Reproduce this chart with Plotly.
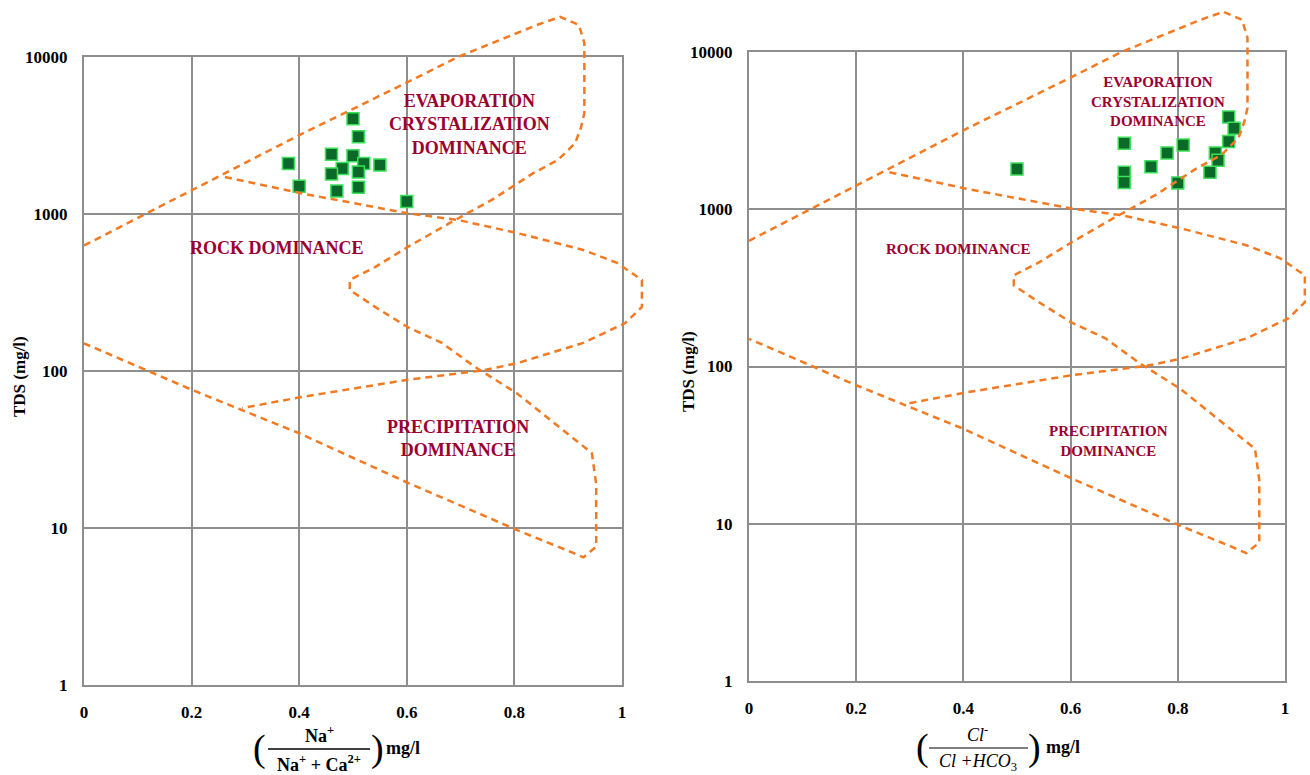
import math
import plotly.graph_objects as go

# ---------------- data ----------------
# Gibbs boundary curves (shared by both panels)
curve_a_x = [0.0, 0.2, 0.401, 0.602, 0.695, 0.842, 0.885, 0.92, 0.93, 0.93, 0.924, 0.913, 0.881,
             0.835, 0.758, 0.68, 0.602, 0.541, 0.494, 0.494, 0.541, 0.602, 0.665, 0.727, 0.805,
             0.866, 0.944, 0.952, 0.952, 0.928, 0.898, 0.805, 0.602, 0.401, 0.2, 0.0]
curve_a_y = [630, 1420, 3190, 6930, 10000, 16000, 18000, 16000, 12300, 4400, 3580, 2830, 2210,
             1820, 1230, 877, 617, 459, 380, 328, 256, 190, 151, 106, 72,
             49, 30, 19, 7.6, 6.5, 7.2, 9.7, 19.4, 40, 76, 150]
curve_b_x = [0.262, 0.401, 0.602, 0.695, 0.805, 0.928, 0.991, 1.037, 1.037, 1.006, 0.928, 0.805,
             0.742, 0.602, 0.401, 0.294]
curve_b_y = [1720, 1360, 1010, 916, 757, 590, 488, 380, 256, 202, 151, 112, 101, 88, 68, 58]

# samples, left panel: Na/(Na+Ca)
na_ratio = [0.50, 0.51, 0.38, 0.46, 0.50, 0.55, 0.52, 0.48, 0.46, 0.51, 0.40, 0.47, 0.51, 0.60]
tds_left = [4050, 3100, 2100, 2400, 2350, 2050, 2100, 1950, 1800, 1850, 1500, 1400, 1480, 1200]

# samples, right panel: Cl/(Cl+HCO3)
cl_ratio = [0.50, 0.70, 0.70, 0.70, 0.75, 0.78, 0.81, 0.80, 0.86, 0.87, 0.875, 0.895, 0.895, 0.905]
tds_right = [1800, 2630, 1720, 1480, 1860, 2280, 2560, 1470, 1720, 2280, 2050, 2700, 3860, 3280]

x_ticks = [0, 0.2, 0.4, 0.6, 0.8, 1]
x_ticktext = ["0", "0.2", "0.4", "0.6", "0.8", "1"]
y_ticks = [1, 10, 100, 1000, 10000]
y_ticktext = ["1", "10", "100", "1000", "10000"]

region_labels = ["EVAPORATION<br>CRYSTALIZATION<br>DOMINANCE", "ROCK DOMINANCE",
                 "PRECIPITATION<br>DOMINANCE"]
left_label_pos = [(0.717, 3690), (0.359, 607), (0.695, 37.4)]
right_label_pos = [(0.763, 4810), (0.39, 556), (0.67, 33.8)]

# ---------------- layout geometry (pixels) ----------------
W, H = 1310, 775
panels = {
    "L": dict(x0=84, x1=622, ybot=685, ytop=57, xr=1.08, yr=4.35),
    "R": dict(x0=749, x1=1285, ybot=681, ytop=52, xr=1.045, yr=4.3),
}

def xd(px):
    return px / W

def yd(py):
    return 1 - py / H

SERIF = "Liberation Serif"
ORANGE = "#F27A22"
LABEL_RED = "#9A0030"
GRID = "#8E8E8E"

fig = go.Figure()

axis_ids = {"L": ("x", "y", "x3", "y3"), "R": ("x2", "y2", "x4", "y4")}
data = {"L": (na_ratio, tds_left), "R": (cl_ratio, tds_right)}

for key in ["L", "R"]:
    main_x, main_y, ov_x, ov_y = axis_ids[key]
    xs, ys = data[key]
    fig.add_trace(go.Scatter(
        x=xs, y=ys, mode="markers", xaxis=main_x, yaxis=main_y, showlegend=False,
        marker=dict(symbol="square", size=12, color="#0B6A2A",
                    line=dict(color="#3CE05A", width=1.5)),
    ))
    for cx, cy in [(curve_a_x, curve_a_y), (curve_b_x, curve_b_y)]:
        fig.add_trace(go.Scatter(
            x=cx, y=cy, mode="lines", xaxis=ov_x, yaxis=ov_y, showlegend=False,
            line=dict(color=ORANGE, width=2.5, dash="7px,5px"),
        ))

layout = {}
for key, names in axis_ids.items():
    p = panels[key]
    main_x, main_y, ov_x, ov_y = names
    dec = (p["ybot"] - p["ytop"]) / 4.0
    unit = (p["x1"] - p["x0"])
    xdom = [xd(p["x0"]), xd(p["x1"])]
    ydom = [yd(p["ybot"]), yd(p["ytop"])]
    common = dict(showgrid=True, gridcolor=GRID, gridwidth=2, zeroline=False,
                  showline=True, linecolor=GRID, linewidth=2, mirror=True,
                  ticks="", tickfont=dict(family=SERIF, size=17, color="black", weight="bold"),
                  fixedrange=True)
    xname = "xaxis" + main_x[1:]
    yname = "yaxis" + main_y[1:]
    layout[xname] = dict(domain=xdom, range=[0, 1], anchor=main_y, tickvals=x_ticks,
                         ticktext=x_ticktext, ticklabelstandoff=11, **common)
    layout[yname] = dict(domain=ydom, range=[0, 4], type="log", anchor=main_x,
                         tickvals=y_ticks, ticktext=y_ticktext, ticklabelstandoff=11, **common)
    # overlay subplot with identical scale but extended extent for the boundary curves
    ox_end = min(1.0, xd(p["x0"] + unit * p["xr"]))
    oy_end = min(1.0, yd(p["ybot"] - dec * p["yr"]))
    layout["xaxis" + ov_x[1:]] = dict(domain=[xd(p["x0"]), ox_end], range=[0, p["xr"]],
                                      anchor=ov_y, visible=False, fixedrange=True)
    layout["yaxis" + ov_y[1:]] = dict(domain=[yd(p["ybot"]), oy_end], range=[0, p["yr"]],
                                      type="log", anchor=ov_x, visible=False, fixedrange=True)

annotations = []
for key, positions, size in [("L", left_label_pos, 18), ("R", right_label_pos, 15)]:
    main_x, main_y = axis_ids[key][0], axis_ids[key][1]
    for text, (lx, ly) in zip(region_labels, positions):
        annotations.append(dict(
            x=lx, y=math.log10(ly), xref=main_x, yref=main_y, text="<b>" + text + "</b>",
            showarrow=False, font=dict(family=SERIF, size=size, color=LABEL_RED),
            align="center", xanchor="center", yanchor="middle"))

# y axis titles
for px, py in [(19, 377), (688, 372)]:
    annotations.append(dict(x=xd(px), y=yd(py), xref="paper", yref="paper",
                            text="<b>TDS (mg/l)</b>", textangle=-90, showarrow=False,
                            font=dict(family=SERIF, size=17, color="black"),
                            xanchor="center", yanchor="middle"))

# x axis titles (fraction expressions)
def frac_title(cx, num, den, lpar, rpar, unit_x, ycenter, fsize):
    items = [
        (lpar, ycenter, "(", 38, "center"),
        (rpar, ycenter, ")", 38, "center"),
        (cx, ycenter - 14, num, fsize, "center"),
        (cx, ycenter + 15, den, fsize, "center"),
        (unit_x, ycenter, "<b>mg/l</b>", 18, "left"),
    ]
    for x, y, t, s, anc in items:
        annotations.append(dict(x=xd(x), y=yd(y), xref="paper", yref="paper", text=t,
                                showarrow=False, xanchor=anc, yanchor="middle",
                                font=dict(family=SERIF, size=s, color="black")))

frac_title(319, "<b>Na<sup>+</sup></b>", "<b>Na<sup>+</sup> + Ca<sup>2+</sup></b>",
           259, 377, 384, 748, 18)
frac_title(978, "<i>Cl</i><sup>-</sup>", "<i>Cl</i> <i>+HCO</i><sub>3</sub>",
           922, 1034, 1044, 747, 18)

shapes = [
    dict(type="line", xref="paper", yref="paper", x0=xd(268), x1=xd(370), y0=yd(749), y1=yd(749),
         line=dict(color="black", width=1.5)),
    dict(type="line", xref="paper", yref="paper", x0=xd(929), x1=xd(1028), y0=yd(748), y1=yd(748),
         line=dict(color="black", width=1.2)),
]

fig.update_layout(
    width=W, height=H, margin=dict(l=0, r=0, t=0, b=0, autoexpand=False),
    paper_bgcolor="white", plot_bgcolor="rgba(0,0,0,0)",
    showlegend=False, annotations=annotations, shapes=shapes, **layout,
)

fig.write_html("out.html")
